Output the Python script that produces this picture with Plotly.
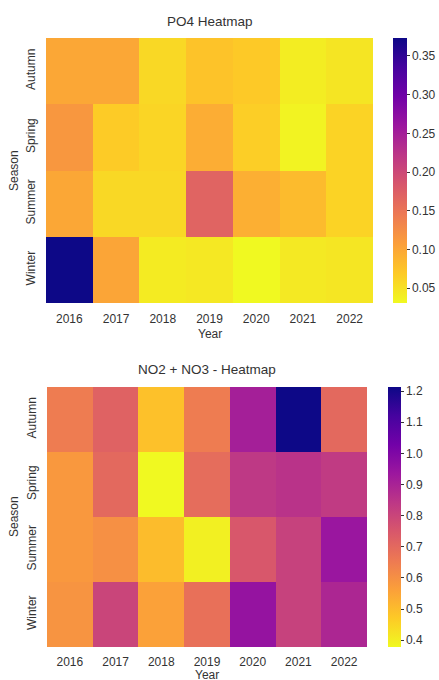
import plotly.graph_objects as go

years = ["2016", "2017", "2018", "2019", "2020", "2021", "2022"]
seasons = ["Autumn", "Spring", "Summer", "Winter"]

po4_autumn = [0.100, 0.100, 0.058, 0.075, 0.070, 0.041, 0.047]
po4_spring = [0.115, 0.068, 0.060, 0.095, 0.066, 0.036, 0.062]
po4_summer = [0.100, 0.058, 0.058, 0.168, 0.093, 0.082, 0.062]
po4_winter = [0.373, 0.102, 0.042, 0.045, 0.031, 0.044, 0.046]

no_autumn = [0.650, 0.720, 0.490, 0.650, 0.912, 1.213, 0.700]
no_spring = [0.580, 0.700, 0.378, 0.690, 0.837, 0.854, 0.830]
no_summer = [0.580, 0.600, 0.500, 0.395, 0.750, 0.810, 0.940]
no_winter = [0.590, 0.800, 0.560, 0.680, 0.950, 0.810, 0.890]

po4_ticks = [0.05, 0.10, 0.15, 0.20, 0.25, 0.30, 0.35]
no_ticks = [0.4, 0.5, 0.6, 0.7, 0.8, 0.9, 1.0, 1.1, 1.2]

W, H = 439, 680
FONT = "Liberation Sans, Arial, sans-serif"
TXT = "#333333"

def px_x(p):
    return p / W

def px_y(p):
    return 1 - p / H

fig = go.Figure()

fig.add_trace(go.Heatmap(
    z=[po4_autumn, po4_spring, po4_summer, po4_winter],
    x=years, y=seasons, xaxis="x", yaxis="y",
    colorscale="Plasma_r", zmin=0.031, zmax=0.373,
    colorbar=dict(
        x=px_x(393), xanchor="left", thickness=14,
        y=px_y(38), yanchor="top", lenmode="pixels", len=265,
        tickvals=po4_ticks, tickformat=".2f", ticks="outside", ticklen=3,
        tickcolor=TXT, outlinewidth=0, xpad=0, ypad=0,
        tickfont=dict(family=FONT, size=12, color=TXT),
    ),
))

fig.add_trace(go.Heatmap(
    z=[no_autumn, no_spring, no_summer, no_winter],
    x=years, y=seasons, xaxis="x2", yaxis="y2",
    colorscale="Plasma_r", zmin=0.378, zmax=1.213,
    colorbar=dict(
        x=px_x(388), xanchor="left", thickness=13,
        y=px_y(387), yanchor="top", lenmode="pixels", len=260,
        tickvals=no_ticks, tickformat=".1f", ticks="outside", ticklen=3,
        tickcolor=TXT, outlinewidth=0, xpad=0, ypad=0,
        tickfont=dict(family=FONT, size=12, color=TXT),
    ),
))

axis_common = dict(showgrid=False, zeroline=False, showline=False, ticks="",
                   tickfont=dict(family=FONT, size=12, color=TXT))

fig.update_layout(
    width=W, height=H,
    margin=dict(l=0, r=0, t=0, b=0, autoexpand=False),
    paper_bgcolor="white", plot_bgcolor="white",
    showlegend=False,
    xaxis=dict(domain=[px_x(46), px_x(373)], anchor="y", ticklabelstandoff=7, **axis_common),
    yaxis=dict(domain=[px_y(303), px_y(38)], anchor="x", autorange="reversed",
               tickangle=-90, ticklabelstandoff=8, **axis_common),
    xaxis2=dict(domain=[px_x(47), px_x(367)], anchor="y2", ticklabelstandoff=6, **axis_common),
    yaxis2=dict(domain=[px_y(647), px_y(387)], anchor="x2", autorange="reversed",
                tickangle=-90, ticklabelstandoff=8, **axis_common),
)

def ann(text, x, y, size=12, angle=0):
    fig.add_annotation(text=text, x=px_x(x), y=px_y(y), xref="paper", yref="paper",
                       showarrow=False, xanchor="center", yanchor="middle",
                       textangle=angle, font=dict(family=FONT, size=size, color=TXT))

ann("PO4 Heatmap", 210, 21, size=13.5)
ann("NO2 + NO3 - Heatmap", 207, 369, size=13.5)
ann("Year", 210, 334)
ann("Year", 207, 675)
ann("Season", 14, 171, angle=-90)
ann("Season", 14, 517, angle=-90)

fig.write_html("out.html",
               config={"displayModeBar": False},
               post_script="document.body.style.margin='0';document.body.style.overflow='hidden';")
